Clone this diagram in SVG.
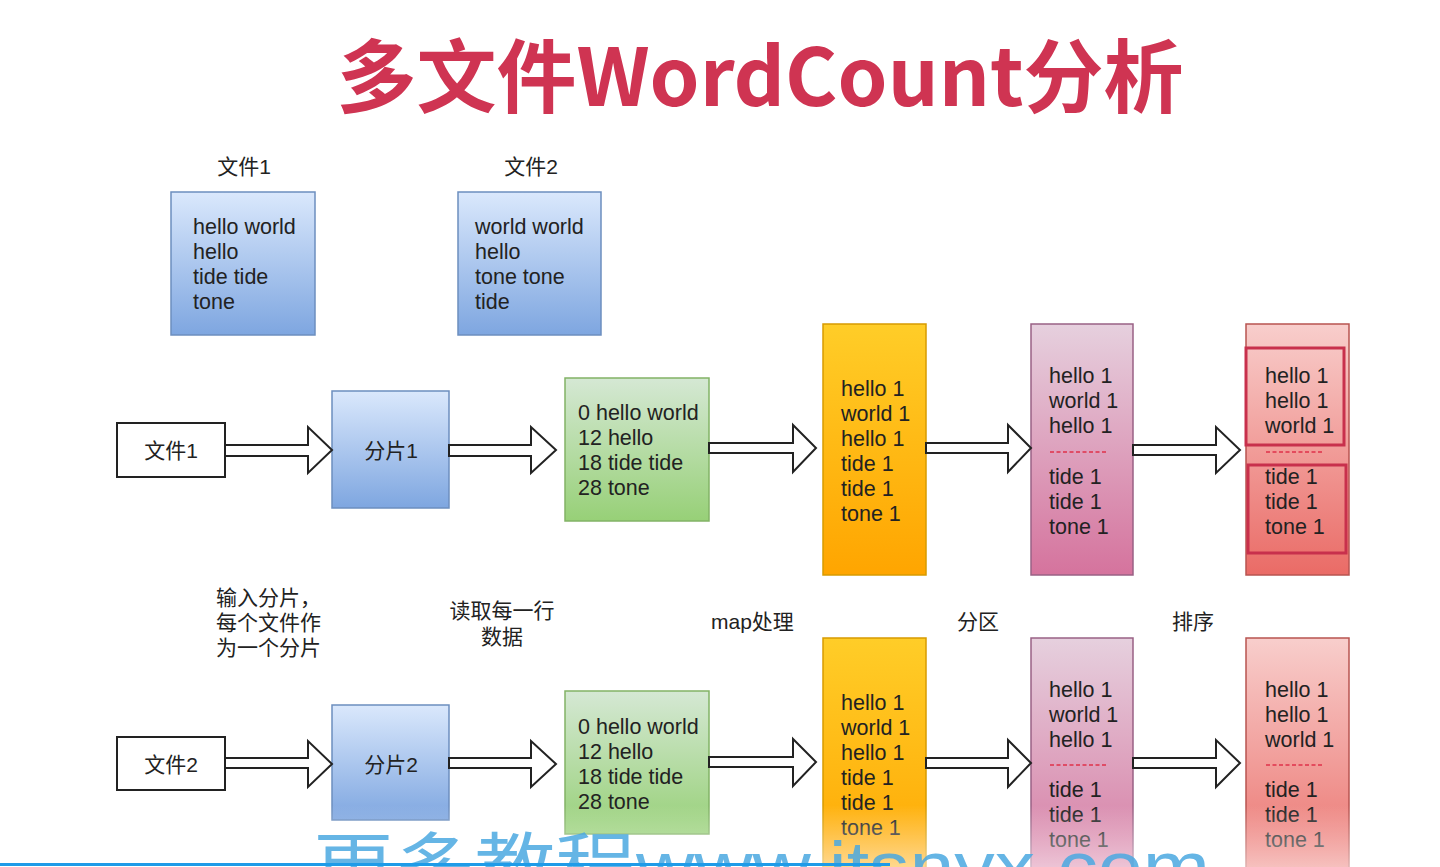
<svg xmlns="http://www.w3.org/2000/svg" width="1440" height="867" viewBox="0 0 1440 867">
<defs>
<linearGradient id="gBlue" x1="0" y1="0" x2="0" y2="1"><stop offset="0" stop-color="#dae8fc"/><stop offset="1" stop-color="#7ea6e0"/></linearGradient>
<linearGradient id="gGreen" x1="0" y1="0" x2="0" y2="1"><stop offset="0" stop-color="#d5e8d4"/><stop offset="1" stop-color="#97d077"/></linearGradient>
<linearGradient id="gYellow" x1="0" y1="0" x2="0" y2="1"><stop offset="0" stop-color="#ffcd28"/><stop offset="1" stop-color="#ffa500"/></linearGradient>
<linearGradient id="gPink" x1="0" y1="0" x2="0" y2="1"><stop offset="0" stop-color="#e6d0de"/><stop offset="1" stop-color="#d5739d"/></linearGradient>
<linearGradient id="gRed" x1="0" y1="0" x2="0" y2="1"><stop offset="0" stop-color="#f8cecc"/><stop offset="1" stop-color="#ea6b66"/></linearGradient>
<linearGradient id="gFade" x1="0" y1="0" x2="0" y2="1"><stop offset="0" stop-color="#ffffff" stop-opacity="0"/><stop offset="1" stop-color="#ffffff" stop-opacity="0.55"/></linearGradient>
<style>
.t{font-family:"Liberation Sans",Arial,sans-serif;font-size:21.5px;fill:#222;}
.c{font-family:"Liberation Sans","Noto Sans CJK SC",sans-serif;font-size:21px;fill:#222;}
.m{text-anchor:middle;}
.blue{fill:url(#gBlue);stroke:#6c8ebf;stroke-width:1.5;}
.green{fill:url(#gGreen);stroke:#82b366;stroke-width:1.5;}
.yellow{fill:url(#gYellow);stroke:#d79b00;stroke-width:1.5;}
.pink{fill:url(#gPink);stroke:#996185;stroke-width:1.5;}
.red{fill:url(#gRed);stroke:#b85450;stroke-width:1.5;}
.plain{fill:#ffffff;stroke:#222;stroke-width:2;}
.arrow{fill:#ffffff;stroke:#222;stroke-width:2;stroke-linejoin:miter;}
.dash{stroke:#e0304a;stroke-width:1.5;stroke-dasharray:4 2.5;}
.inner{fill:none;stroke:#c8304c;stroke-width:3;}
</style>
</defs>
<rect x="0" y="0" width="1440" height="867" fill="#ffffff"/>

<text id="title" x="760" y="106" text-anchor="middle" font-family="'Noto Sans CJK SC','Noto Sans',sans-serif" font-weight="bold" font-size="80" fill="#cf3452">多文件WordCount分析</text>

<g id="file1-content">
<text class="c m" x="244" y="174">文件1</text>
<rect class="blue" x="171" y="192" width="144" height="143"/>
<text class="t" x="193" y="234">hello world</text>
<text class="t" x="193" y="259">hello</text>
<text class="t" x="193" y="284">tide tide</text>
<text class="t" x="193" y="309">tone</text>
</g>
<g id="file2-content">
<text class="c m" x="531" y="174">文件2</text>
<rect class="blue" x="458" y="192" width="143" height="143"/>
<text class="t" x="475" y="234">world world</text>
<text class="t" x="475" y="259">hello</text>
<text class="t" x="475" y="284">tone tone</text>
<text class="t" x="475" y="309">tide</text>
</g>

<g id="r1-file"><rect class="plain" x="117" y="423" width="108" height="54"/><text class="c m" x="171" y="458">文件1</text></g>
<g id="r1-split"><rect class="blue" x="332" y="391" width="117" height="117"/><text class="c m" x="391" y="458">分片1</text></g>
<g id="r1-lines"><rect class="green" x="565" y="378" width="144" height="143"/>
<text class="t" x="578" y="420">0 hello world</text><text class="t" x="578" y="445">12 hello</text><text class="t" x="578" y="470">18 tide tide</text><text class="t" x="578" y="495">28 tone</text></g>
<g id="r1-map"><rect class="yellow" x="823" y="324" width="103" height="251"/>
<text class="t" x="841" y="396">hello 1</text><text class="t" x="841" y="421">world 1</text><text class="t" x="841" y="446">hello 1</text><text class="t" x="841" y="471">tide 1</text><text class="t" x="841" y="496">tide 1</text><text class="t" x="841" y="521">tone 1</text></g>
<g id="r1-partition"><rect class="pink" x="1031" y="324" width="102" height="251"/>
<text class="t" x="1049" y="383">hello 1</text><text class="t" x="1049" y="408">world 1</text><text class="t" x="1049" y="433">hello 1</text>
<line class="dash" x1="1050" y1="452" x2="1106" y2="452"/>
<text class="t" x="1049" y="484">tide 1</text><text class="t" x="1049" y="509">tide 1</text><text class="t" x="1049" y="534">tone 1</text></g>
<g id="r1-sort"><rect class="red" x="1246" y="324" width="103" height="251"/>
<rect class="inner" x="1246" y="348" width="98" height="97"/>
<rect class="inner" x="1248" y="465" width="98" height="88"/>
<text class="t" x="1265" y="383">hello 1</text><text class="t" x="1265" y="408">hello 1</text><text class="t" x="1265" y="433">world 1</text>
<line class="dash" x1="1266" y1="452" x2="1322" y2="452" stroke-width="2.5"/>
<text class="t" x="1265" y="484">tide 1</text><text class="t" x="1265" y="509">tide 1</text><text class="t" x="1265" y="534">tone 1</text></g>

<g id="labels">
<text class="c" x="216" y="605">输入分片，</text>
<text class="c" x="216" y="630">每个文件作</text>
<text class="c" x="216" y="655">为一个分片</text>
<text class="c m" x="502" y="618">读取每一行</text>
<text class="c m" x="502" y="644">数据</text>
<text class="c" x="711" y="629">map处理</text>
<text class="c m" x="978" y="629">分区</text>
<text class="c m" x="1193" y="629">排序</text>
</g>

<g id="r2-file"><rect class="plain" x="117" y="737" width="108" height="53"/><text class="c m" x="171" y="772">文件2</text></g>
<g id="r2-split"><rect class="blue" x="332" y="705" width="117" height="115"/><text class="c m" x="391" y="772">分片2</text></g>
<g id="r2-lines"><rect class="green" x="565" y="691" width="144" height="143"/>
<text class="t" x="578" y="734">0 hello world</text><text class="t" x="578" y="759">12 hello</text><text class="t" x="578" y="784">18 tide tide</text><text class="t" x="578" y="809">28 tone</text></g>
<g id="r2-map"><rect class="yellow" x="823" y="638" width="103" height="251"/>
<text class="t" x="841" y="710">hello 1</text><text class="t" x="841" y="735">world 1</text><text class="t" x="841" y="760">hello 1</text><text class="t" x="841" y="785">tide 1</text><text class="t" x="841" y="810">tide 1</text><text class="t" x="841" y="835">tone 1</text></g>
<g id="r2-partition"><rect class="pink" x="1031" y="638" width="102" height="251"/>
<text class="t" x="1049" y="697">hello 1</text><text class="t" x="1049" y="722">world 1</text><text class="t" x="1049" y="747">hello 1</text>
<line class="dash" x1="1050" y1="765" x2="1106" y2="765"/>
<text class="t" x="1049" y="797">tide 1</text><text class="t" x="1049" y="822">tide 1</text><text class="t" x="1049" y="847">tone 1</text></g>
<g id="r2-sort"><rect class="red" x="1246" y="638" width="103" height="251"/>
<text class="t" x="1265" y="697">hello 1</text><text class="t" x="1265" y="722">hello 1</text><text class="t" x="1265" y="747">world 1</text>
<line class="dash" x1="1266" y1="765" x2="1322" y2="765" stroke-width="2.5"/>
<text class="t" x="1265" y="797">tide 1</text><text class="t" x="1265" y="822">tide 1</text><text class="t" x="1265" y="847">tone 1</text></g>

<g id="connectors">
<path class="arrow" d="M225,445 L308,445 L308,427 L332,450 L308,473 L308,456 L225,456 Z"/>
<path class="arrow" d="M449,445 L531,445 L531,427 L556,450 L531,473 L531,456 L449,456 Z"/>
<path class="arrow" d="M709,443 L793,443 L793,425 L816,448 L793,472 L793,453 L709,453 Z"/>
<path class="arrow" d="M926,443 L1008,443 L1008,425 L1031,448 L1008,472 L1008,453 L926,453 Z"/>
<path class="arrow" d="M1133,445 L1216,445 L1216,427 L1240,450 L1216,473 L1216,455 L1133,455 Z"/>
<path class="arrow" d="M225,758 L308,758 L308,741 L332,764 L308,787 L308,768 L225,768 Z"/>
<path class="arrow" d="M449,758 L531,758 L531,741 L556,764 L531,787 L531,768 L449,768 Z"/>
<path class="arrow" d="M709,757 L793,757 L793,739 L816,762 L793,786 L793,767 L709,767 Z"/>
<path class="arrow" d="M926,758 L1008,758 L1008,740 L1031,763 L1008,787 L1008,768 L926,768 Z"/>
<path class="arrow" d="M1133,758 L1216,758 L1216,740 L1240,763 L1216,787 L1216,768 L1133,768 Z"/>
</g>

<rect x="0" y="805" width="1440" height="62" fill="url(#gFade)"/>
<text id="watermark" x="313" y="892" font-family="'Liberation Sans','Noto Sans CJK SC',sans-serif" font-size="72" fill="#4aa8e0" fill-opacity="0.85" textLength="897" lengthAdjust="spacingAndGlyphs">更多教程www.itsnyx.com</text>
<line x1="0" y1="864.5" x2="890" y2="864.5" stroke="#1e9be8" stroke-width="3"/>
</svg>
